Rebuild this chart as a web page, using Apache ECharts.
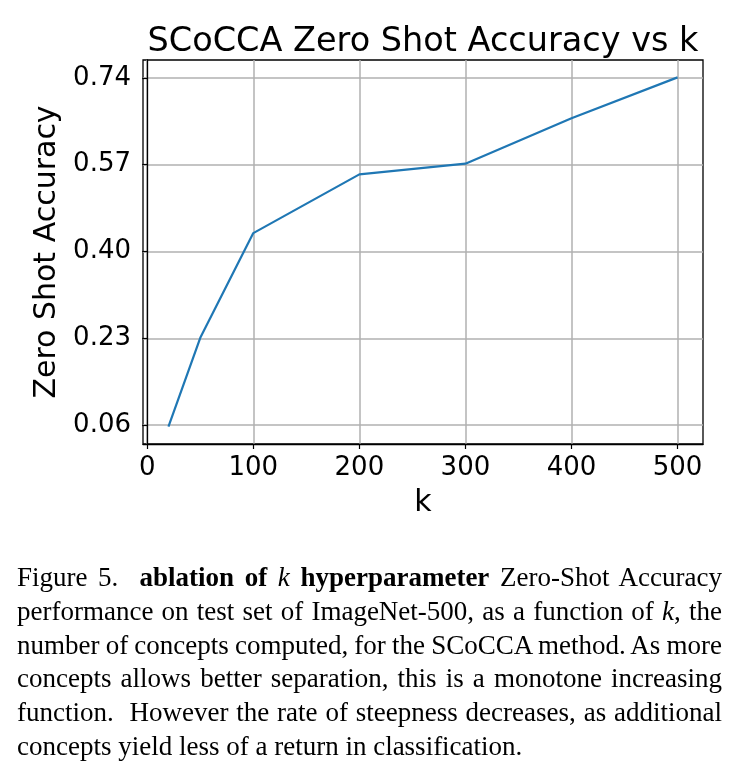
<!DOCTYPE html>
<html>
<head>
<meta charset="utf-8">
<script src="https://cdn.jsdelivr.net/npm/echarts@6/dist/echarts.min.js"></script>
<style>
  html, body { margin: 0; padding: 0; background: #fff; }
  #wrap { position: relative; width: 740px; height: 775px; }
  #chart { position: absolute; left: 0; top: 0; width: 740px; height: 775px; }
  #caption {
    position: absolute; left: 17px; top: 561px; width: 705px;
    font-family: "Liberation Serif", "DejaVu Serif", serif;
    font-size: 27px; line-height: 33.8px; color: #000;
    text-align: justify; word-spacing: -2px;
  }
  #caption i { font-style: italic; font-weight: normal; }
  #caption .last { word-spacing: 0; }
</style>
</head>
<body>
<div id="wrap">
  <div id="chart"></div>
  <div id="caption">Figure 5.&nbsp; <b>ablation of <i>k</i> hyperparameter</b> Zero-Shot Accuracy performance on test set of ImageNet-500, as a function of <i>k</i>, the number of concepts computed, for the SCoCCA method. As more concepts allows better separation, this is a monotone increasing function.&nbsp; However the rate of steepness decreases, as additional <span class="last">concepts yield less of a return in classification.</span></div>
</div>
<script>
const kValues = [20, 50, 100, 200, 300, 400, 500];
const accuracy = [0.057, 0.231, 0.436, 0.551, 0.572, 0.661, 0.741];
const xTicks = [0, 100, 200, 300, 400, 500];
const yTicks = [0.06, 0.23, 0.40, 0.57, 0.74];

const chart = echarts.init(document.getElementById('chart'), null, { renderer: 'canvas' });
const font = 'DejaVu Sans';
chart.setOption({
  animation: false,
  backgroundColor: '#ffffff',
  title: {
    text: 'SCoCCA Zero Shot Accuracy vs k',
    left: 418, top: 20, textAlign: 'center',
    textStyle: { fontFamily: font, fontSize: 33.5, fontWeight: 'normal', color: '#000' }
  },
  grid: {
    left: 143, top: 60, width: 560, height: 384,
    show: true, borderColor: '#000', borderWidth: 1.3, backgroundColor: 'transparent'
  },
  xAxis: {
    type: 'value', min: -4, max: 524,
    name: 'k', nameLocation: 'middle', nameGap: 44,
    nameTextStyle: { fontFamily: font, fontSize: 30, color: '#000' },
    axisLine: { show: true, lineStyle: { color: '#000', width: 1.3 } },
    axisTick: { show: true, inside: false, length: 5, customValues: xTicks, lineStyle: { color: '#000', width: 1.2 } },
    axisLabel: { customValues: xTicks, margin: 11, fontFamily: font, fontSize: 26, color: '#000' },
    splitLine: { show: true, lineStyle: { color: '#b0b0b0', width: 1.5 } }
  },
  yAxis: {
    type: 'value', min: 0.023, max: 0.775,
    name: 'Zero Shot Accuracy', nameLocation: 'middle', nameGap: 72, nameRotate: 90,
    nameTextStyle: { fontFamily: font, fontSize: 30, color: '#000' },
    axisLine: { show: true, lineStyle: { color: '#000', width: 1.3 } },
    axisTick: { show: true, inside: false, length: 5, customValues: yTicks, lineStyle: { color: '#000', width: 1.2 } },
    axisLabel: { customValues: yTicks, margin: 12, fontFamily: font, fontSize: 26, color: '#000',
      formatter: v => v.toFixed(2) },
    splitLine: { show: true, lineStyle: { color: '#b0b0b0', width: 1.5 } }
  },
  series: [{
    type: 'line',
    data: kValues.map((k, i) => [k, accuracy[i]]),
    showSymbol: false,
    lineStyle: { color: '#1f77b4', width: 2.2 },
    itemStyle: { color: '#1f77b4' }
  }]
});
</script>
</body>
</html>
